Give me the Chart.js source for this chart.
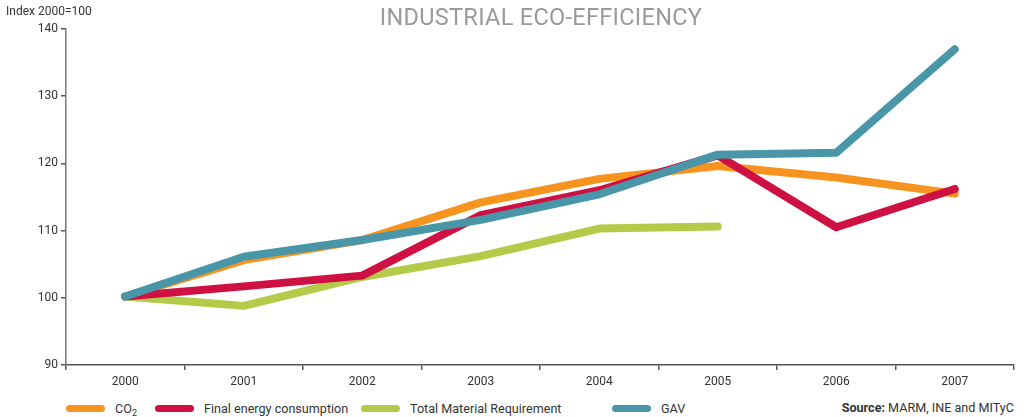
<!DOCTYPE html>
<html>
<head>
<meta charset="utf-8">
<script src="https://cdn.jsdelivr.net/npm/chart.js@4/dist/chart.umd.min.js"></script>
<style>
  html, body { margin: 0; padding: 0; background: #fff; }
  body { width: 1024px; height: 417px; position: relative; overflow: hidden; font-family: Roboto, "DejaVu Sans", sans-serif; }
  #wrap { position: absolute; left: 0; top: 0; width: 1024px; height: 395px; }
  #title { position: absolute; left: 0; width: 1082px; top: 3px; text-align: center; font-size: 23.5px; color: #9a9a9d; letter-spacing: 0.3px; }
  #ylab { position: absolute; left: 6px; top: 4px; font-size: 12px; color: #333; }
  #legend { position: absolute; left: 0; top: 399px; width: 1024px; height: 18px; font-size: 12.6px; color: #333; }
  .item { position: absolute; top: 0; display: flex; align-items: center; height: 18px; white-space: nowrap; }
  .sw { width: 39px; height: 7px; border-radius: 4px; margin-right: 10px; }
  #source { position: absolute; right: 10px; top: 0; height: 18px; line-height: 18px; }
  sub { font-size: 9px; vertical-align: -3px; line-height: 0; }
</style>
</head>
<body>
<div id="wrap"><canvas id="c"></canvas></div>
<div id="title">INDUSTRIAL ECO-EFFICIENCY</div>
<div id="ylab">Index 2000=100</div>
<div id="legend"></div>

<script>
// Years on the horizontal axis
const years = ['2000', '2001', '2002', '2003', '2004', '2005', '2006', '2007'];

// Index values, 2000 = 100
const co2 = [100.2, 105.6, 108.6, 114.2, 117.7, 119.6, 117.9, 115.5];
const finalEnergy = [100.2, 101.7, 103.3, 112.3, 116.0, 121.2, 110.5, 116.2];
const totalMaterial = [100.2, 98.8, 103.1, 106.2, 110.3, 110.6, null, null];
const gav = [100.2, 106.1, 108.6, 111.6, 115.4, 121.3, 121.6, 137.0];

// Vertical axis range
const yMin = 90;
const yMax = 140;
const yStep = 10;

const series = [
  { label: 'GAV', html: 'GAV', data: gav, color: '#4a96a9', order: 0, legendX: 612 },
  { label: 'Final energy consumption', html: 'Final energy consumption', data: finalEnergy, color: '#cf1042', order: 1, legendX: 155 },
  { label: 'Total Material Requirement', html: 'Total Material Requirement', data: totalMaterial, color: '#b3cb48', order: 2, legendX: 361 },
  { label: 'CO2', html: 'CO<sub>2</sub>', data: co2, color: '#f7941f', order: 3, legendX: 66 }
];

const axisColor = '#555';
const tickFont = { family: 'Roboto', size: 12 };

new Chart(document.getElementById('c'), {
  type: 'line',
  data: {
    labels: years,
    datasets: series.map(s => ({
      label: s.label,
      data: s.data,
      borderColor: s.color,
      backgroundColor: s.color,
      borderWidth: 8,
      borderCapStyle: 'round',
      borderJoinStyle: 'round',
      pointRadius: 0,
      pointHoverRadius: 0,
      tension: 0,
      spanGaps: false,
      order: s.order
    }))
  },
  options: {
    responsive: true,
    maintainAspectRatio: false,
    animation: false,
    layout: { padding: { top: 29, right: 10, left: 0, bottom: 0 } },
    plugins: { legend: { display: false }, tooltip: { enabled: false } },
    scales: {
      x: {
        offset: true,
        grid: { display: true, offset: true, drawOnChartArea: false, drawTicks: true, tickLength: 5, color: axisColor, lineWidth: 1.5 },
        border: { display: true, color: axisColor, width: 1.5 },
        ticks: { color: '#333', font: tickFont, padding: 5, maxRotation: 0 },
        afterFit: scale => { scale.height = 30; }
      },
      y: {
        min: yMin,
        max: yMax,
        grid: { display: true, drawOnChartArea: false, drawTicks: true, tickLength: 5, color: axisColor, lineWidth: 1.5 },
        border: { display: true, color: '#777', width: 1.5 },
        ticks: { stepSize: yStep, color: '#333', font: tickFont, padding: 3 },
        afterFit: scale => { scale.width = 66; }
      }
    }
  }
});

// Legend row and source line
const legend = document.getElementById('legend');
[...series].sort((a, b) => a.legendX - b.legendX).forEach(s => {
  const item = document.createElement('div');
  item.className = 'item';
  item.style.left = s.legendX + 'px';
  item.innerHTML = '<span class="sw" style="background:' + s.color + '"></span><span>' + s.html + '</span>';
  legend.appendChild(item);
});
const src = document.createElement('div');
src.id = 'source';
src.innerHTML = '<b>Source:</b> MARM, INE and MITyC';
legend.appendChild(src);
</script>
</body>
</html>
